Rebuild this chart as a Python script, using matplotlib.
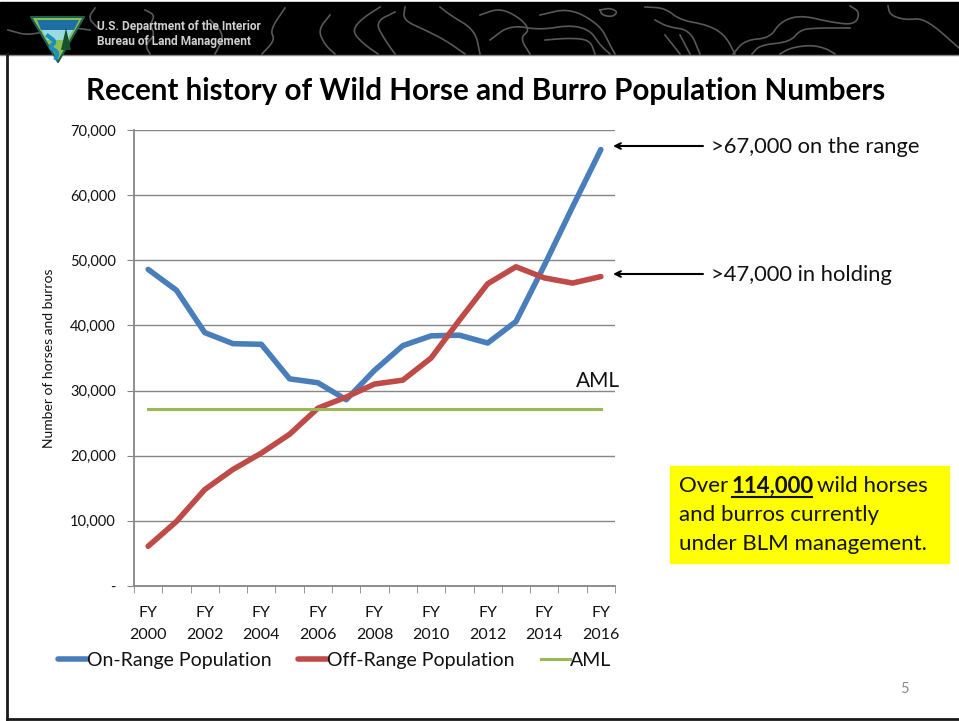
#!/usr/bin/env python
"""
Wild horse and burro population slide
"""
import numpy as np
import matplotlib
matplotlib.use('Agg')
import matplotlib.pyplot as plt
from matplotlib.patches import Polygon, Rectangle

# Chart data
years = list(range(2000, 2017))
on_range = [48600, 45400, 38900, 37200, 37100, 31800, 31200, 28600, 33100,
            36900, 38400, 38500, 37300, 40600, 49200, 58200, 67000]
off_range = [6100, 9900, 14800, 17900, 20400, 23300, 27300, 29000, 31000,
             31600, 35000, 40800, 46400, 49000, 47300, 46500, 47500]
aml = [27200] * 17
y_ticks = [0, 10000, 20000, 30000, 40000, 50000, 60000, 70000]
y_labels = ['-', '10,000', '20,000', '30,000', '40,000', '50,000', '60,000', '70,000']
x_labels = ['FY\n%d' % y if y % 2 == 0 else '' for y in years]

plt.rcParams['font.family'] = ['Lato', 'DejaVu Sans']

W, H = 959, 721
fig = plt.figure(figsize=(W / 100, H / 100), dpi=100)

# Slide background, in pixel coordinates
bg = fig.add_axes([0, 0, 1, 1])
bg.set_xlim(0, W)
bg.set_ylim(H, 0)
bg.axis('off')

bg.add_patch(Rectangle((0, 2), W, 52, color='black', zorder=1))
bg.plot([0, W], [54.5, 54.5], color='#888888', lw=1, zorder=2)
bg.plot([7, 7], [54, 719], color='#1a1a1a', lw=2, zorder=2)
bg.plot([7, W], [719, 719], color='#1a1a1a', lw=2, zorder=2)


# Rounds off a polyline so the header contours look hand drawn
def chaikin(pts, n=3):
    pts = np.array(pts, dtype=float)
    for _ in range(n):
        q = 0.75 * pts[:-1] + 0.25 * pts[1:]
        r = 0.25 * pts[:-1] + 0.75 * pts[1:]
        mid = np.empty((2 * len(q), 2))
        mid[0::2] = q
        mid[1::2] = r
        pts = np.vstack([pts[0], mid, pts[-1]])
    return pts


# Contour lines in the header
contours = [
    [(8, 30), (30, 36), (60, 26), (90, 30)],
    [(95, 8), (88, 18), (98, 28)],
    [(145, 10), (155, 15), (150, 25), (155, 35), (145, 45), (150, 54)],
    [(210, 20), (225, 35), (215, 54)],
    [(285, 8), (270, 30), (275, 40), (262, 54)],
    [(330, 15), (318, 30), (325, 45), (335, 54)],
    [(380, 7), (360, 20), (352, 32), (365, 45), (378, 54)],
    [(395, 12), (375, 22), (385, 40), (395, 54)],
    [(405, 7), (403, 20), (425, 30), (445, 40), (465, 54)],
    [(440, 7), (450, 15), (475, 30), (480, 54)],
    [(480, 15), (500, 8), (520, 18), (530, 30), (520, 38), (530, 54)],
    [(490, 40), (510, 25), (540, 30), (570, 25), (590, 30), (600, 45), (610, 54)],
    [(540, 15), (570, 8), (600, 25), (610, 45), (615, 54)],
    [(545, 40), (570, 38), (590, 40), (595, 54)],
    [(600, 10), (610, 8), (618, 12), (612, 17), (602, 15), (600, 10)],
    [(645, 7), (665, 8), (680, 20), (708, 25), (725, 35), (735, 54)],
    [(655, 20), (668, 27), (690, 30), (700, 54)],
    [(665, 35), (680, 54)],
    [(680, 35), (690, 54)],
    [(733, 54), (745, 40), (770, 38), (780, 22), (800, 15), (830, 22), (855, 25), (860, 12), (850, 6)],
    [(752, 54), (760, 45), (790, 42), (800, 30), (815, 28), (850, 28)],
    [(780, 54), (790, 48), (810, 45), (825, 48), (835, 54)],
    [(888, 6), (890, 15), (905, 20), (925, 18), (959, 48)],
]
for c in contours:
    p = chaikin(c)
    bg.plot(p[:, 0], p[:, 1], color='#585858', lw=1.2, zorder=2)

# BLM logo
bg.add_patch(Polygon([(31, 17), (84, 17), (58, 62)], closed=True, fc='#8cc152', ec='#1f5f4f',
                     lw=1.5, joinstyle='round', zorder=3))
bg.add_patch(Polygon([(37, 20), (79, 20), (74, 30), (41, 30)], closed=True, fc='#1c6ea4', zorder=4))
bg.add_patch(Polygon([(42, 30), (73, 30), (67, 40), (47, 40)], closed=True, fc='#9adbe0', zorder=4))
zig = chaikin([(48, 36), (56, 42), (49, 47), (58, 52), (56, 58)])
bg.plot(zig[:, 0], zig[:, 1], color='#1c8fc0', lw=3, zorder=5)
bg.add_patch(Polygon([(66, 28), (71, 50), (61, 50)], closed=True, fc='#14532d', zorder=5))

bg.text(97, 26.5, 'U.S. Department of the Interior', color='#cfcfcf', fontsize=8.6, fontweight='bold', va='center', family='Roboto')
bg.text(97, 42, 'Bureau of Land Management', color='#cfcfcf', fontsize=8.6, fontweight='bold', va='center', family='Roboto')

bg.text(486, 91, 'Recent history of Wild Horse and Burro Population Numbers',
        fontsize=21.35, fontweight='bold', ha='center', va='center', color='black')

# Annotations
arrow = dict(arrowstyle='->', color='black', lw=1.5, shrinkA=0, shrinkB=0)
bg.annotate('', xy=(613, 146), xytext=(703, 146), arrowprops=arrow)
bg.annotate('', xy=(613, 274), xytext=(703, 274), arrowprops=arrow)
bg.text(711, 147, '>67,000 on the range', fontsize=15.8, va='center', color='#111111')
bg.text(711, 275, '>47,000 in holding', fontsize=15.8, va='center', color='#111111')
bg.text(576, 381, 'AML', fontsize=15, va='center', color='#111111')

bg.add_patch(Rectangle((670, 466), 279, 97, color='#ffff00', zorder=1))
bg.text(679, 486, 'Over ', fontsize=16, va='center', color='#111111')
bg.text(732, 486, '114,000', fontsize=16, fontweight='bold', va='center', color='#111111')
bg.plot([732, 812], [497, 497], color='#111111', lw=1.5)
bg.text(817, 486, 'wild horses', fontsize=16, va='center', color='#111111')
bg.text(679, 515, 'and burros currently', fontsize=16, va='center', color='#111111')
bg.text(679, 544, 'under BLM management.', fontsize=16, va='center', color='#111111')
bg.text(904, 689, '5', fontsize=10.5, ha='center', va='center', color='#898989')

# Chart
left, right, top, bottom = 134, 615, 130, 586
ax = fig.add_axes([left / W, 1 - bottom / H, (right - left) / W, (bottom - top) / H])
ax.patch.set_alpha(0)
x = np.arange(len(years))
ax.plot(x, on_range, color='#4a7ebb', lw=4, solid_capstyle='round', solid_joinstyle='round', label='On-Range Population')
ax.plot(x, off_range, color='#be4b48', lw=4, solid_capstyle='round', solid_joinstyle='round', label='Off-Range Population')
ax.plot(x, aml, color='#98b954', lw=2.2, label='AML')

ax.set_xlim(-0.5, 16.5)
ax.set_ylim(0, 70000)
ax.set_yticks(y_ticks)
ax.set_yticklabels(y_labels, fontsize=10.5, color='#111111')
ax.set_xticks(x)
ax.set_xticklabels(x_labels, fontsize=11.5, color='#111111', linespacing=1.75)
ax.set_xticks(np.arange(-0.5, 17, 1), minor=True)
ax.tick_params(axis='x', which='major', length=0, pad=14.5)
ax.tick_params(axis='x', which='minor', length=5, color='#868686')
ax.tick_params(axis='y', length=5, color='#868686', pad=8)
ax.grid(axis='y', color='#868686', lw=1)
ax.set_axisbelow(True)
for s in ['top', 'right']:
    ax.spines[s].set_visible(False)
for s in ['left', 'bottom']:
    ax.spines[s].set_color('#868686')
    ax.spines[s].set_linewidth(1.3)
ax.set_ylabel('Number of horses and burros', fontsize=10, color='#111111', labelpad=10.5)

fig.legend(loc='upper left', bbox_to_anchor=(48 / W, 1 - 642 / H), ncol=3, frameon=False,
           fontsize=14, handlelength=1.5, handletextpad=0, columnspacing=1.35, borderpad=0,
           labelcolor='#111111')

fig.savefig('out.png', dpi=100)
